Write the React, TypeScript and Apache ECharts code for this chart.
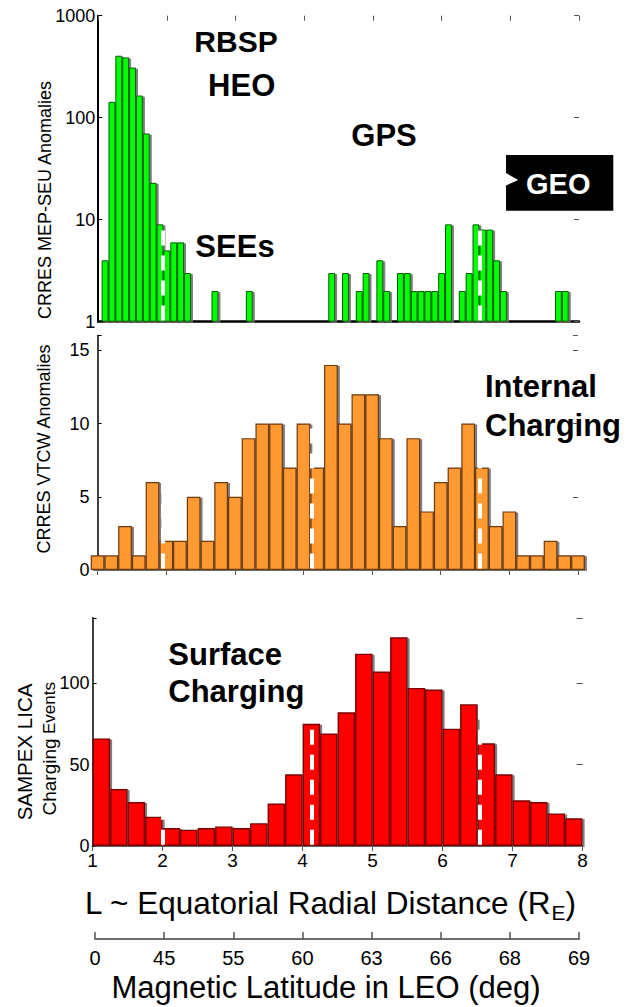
import React, { useEffect, useRef } from 'react';
import * as echarts from 'echarts';

// ---------------- data ----------------
// Top panel: CRRES MEP-SEU anomalies, 0.1-L bins, first bin centred at L = 1.1
const SEU_BIN_START = 1.1;
const SEU_BIN_WIDTH = 0.1;
const SEU_COUNTS: (number | null)[] = [
  4, 143, 405, 390, 310, 165, 70, 23, 9, 5,
  6, 6, 3, null, null, null, 2, null, null, null,
  null, 2, null, null, null, null, null, null, null, null,
  null, null, null, 3, null, 3, null, 2, 3, null,
  4, 2, null, 3, 3, 2, 2, 2, 2, 3,
  9, null, 2, 3, 9, 8, 8, 4, 2, null,
  null, null, null, null, null, null, 2, 2, null, null,
];

// Middle panel: CRRES VTCW anomalies, 0.2-L bins, first bin centred at L = 1.0
const VTCW_BIN_START = 1.0;
const VTCW_BIN_WIDTH = 0.2;
const VTCW_COUNTS: number[] = [
  1, 1, 3, 1, 6, 2, 2, 5, 2, 6, 5, 9, 10, 10, 7, 10, 7, 14,
  10, 12, 12, 9, 3, 9, 4, 6, 7, 10, 7, 3, 4, 1, 1, 2, 1, 1,
];

// Bottom panel: SAMPEX LICA charging events, 0.25-L bins, first bin centred at L = 1.125
const LICA_BIN_START = 1.125;
const LICA_BIN_WIDTH = 0.25;
const LICA_COUNTS: number[] = [
  66, 35, 27, 18, 11, 10, 11, 12, 11, 14, 26, 44, 75, 69,
  82, 118, 107, 128, 97, 96, 72, 87, 63, 44, 28, 27, 20, 17,
];

// Orbit markers (white dashed lines) in L, per panel
const SEU_MARKERS_L = [1.94, 6.55];
const VTCW_MARKERS_L = [1.95, 4.12, 6.57];
const LICA_MARKERS_L = [2.0, 4.13, 6.53];

// Tick labels
const L_TICKS = [1, 2, 3, 4, 5, 6, 7, 8];
const LAT_LABELS = ['0', '45', '55', '60', '63', '66', '68', '69'];
const SEU_Y_TICKS = [1, 10, 100, 1000];

// ---------------- styling ----------------
const FONT = '"Liberation Sans", Arial, Helvetica, sans-serif';

function textWidth(text: string, font: string): number {
  const ctx = document.createElement('canvas').getContext('2d');
  if (!ctx) return text.length * 16;
  ctx.font = font;
  return ctx.measureText(text).width;
}

function binData(start: number, width: number, counts: (number | null)[]) {
  const out: [number, number][] = [];
  counts.forEach((v, i) => {
    if (v !== null && v !== undefined) out.push([start + i * width, v]);
  });
  return out;
}

function markers(xs: number[], y0: number, y1: number) {
  return {
    silent: true,
    symbol: ['none', 'none'],
    label: { show: false },
    emphasis: { disabled: true },
    lineStyle: { color: '#ffffff', width: 4, type: [15, 10], opacity: 1 },
    data: xs.map((x) => [{ coord: [x, y0] }, { coord: [x, y1] }]),
  };
}

const shadow = {
  shadowColor: 'rgba(110,110,110,0.9)',
  shadowBlur: 0,
  shadowOffsetX: 2,
  shadowOffsetY: 1,
};

function mirrorX(gridIndex: number) {
  return {
    gridIndex,
    type: 'value',
    position: 'top',
    min: 1,
    max: 8,
    interval: 1,
    axisLine: { show: false },
    axisTick: { show: true, inside: true, length: 5, lineStyle: { color: '#555', width: 1 } },
    axisLabel: { show: false },
    splitLine: { show: false },
  };
}

function buildOption() {
  const titleFont = `31.5px ${FONT}`;
  const mainTxt = 'L ~ Equatorial Radial Distance (R';
  const subFont = `21px ${FONT}`;
  const w1 = textWidth(mainTxt, titleFont);
  const wE = textWidth('E', subFont);
  const wP = textWidth(')', titleFont);
  const titleX0 = 330.5 - (w1 + wE + wP) / 2;

  const bold = (size: number) => ({ fontFamily: FONT, fontWeight: 'bold', fontSize: size });

  const txt = (text: string, x: number, y: number, size: number, opts: any = {}) => ({
    type: 'text',
    x,
    y,
    z: 100,
    style: {
      text,
      ...bold(size),
      fill: opts.fill || '#000',
      align: opts.align || 'center',
      verticalAlign: 'middle',
      textAlign: opts.align || 'center',
      textVerticalAlign: 'middle',
    },
  });

  const rotTxt = (text: string, x: number, y: number, size: number) => ({
    type: 'text',
    x,
    y,
    rotation: Math.PI / 2,
    z: 100,
    style: {
      text,
      fontFamily: FONT,
      fontSize: size,
      fill: '#000',
      align: 'center',
      verticalAlign: 'middle',
      textAlign: 'center',
      textVerticalAlign: 'middle',
    },
  });

  return {
    animation: false,
    backgroundColor: '#ffffff',
    textStyle: { fontFamily: FONT },
    grid: [
      { left: 98.2, right: 54, top: 15.7, height: 306 },
      { left: 97.6, right: 55, top: 335.6, height: 234.4 },
      { left: 92.6, right: 50.4, top: 617.8, height: 228.2 },
      { left: 95, right: 54, top: 900, height: 39 },
    ],
    xAxis: [
      {
        gridIndex: 0, type: 'value', min: 1, max: 8, interval: 1,
        axisLine: { show: true, onZero: false, lineStyle: { color: '#000', width: 2.5 } },
        axisTick: { show: false }, axisLabel: { show: false }, splitLine: { show: false },
      },
      mirrorX(0),
      {
        gridIndex: 1, type: 'value', min: 1, max: 8, interval: 1,
        axisLine: { show: true, onZero: false, lineStyle: { color: '#000', width: 1.5 } },
        axisTick: { show: false }, axisLabel: { show: false }, splitLine: { show: false },
      },
      mirrorX(1),
      {
        gridIndex: 2, type: 'value', min: 1, max: 8, interval: 1,
        axisLine: { show: true, onZero: false, lineStyle: { color: '#000', width: 2 } },
        axisTick: { show: false },
        axisLabel: {
          show: true, fontSize: 19, color: '#000', margin: 5, fontFamily: FONT,
          formatter: (v: number) => (L_TICKS.indexOf(Math.round(v)) >= 0 ? String(Math.round(v)) : ''),
        },
        splitLine: { show: false },
      },
      mirrorX(2),
      {
        gridIndex: 3, type: 'value', min: 1, max: 8, interval: 1,
        axisLine: { show: true, onZero: false, lineStyle: { color: '#6e6e6e', width: 2 } },
        axisTick: { show: true, inside: true, length: 7, lineStyle: { color: '#555', width: 1.5 } },
        axisLabel: {
          show: true, fontSize: 20, color: '#000', margin: 9, fontFamily: FONT,
          formatter: (v: number) => LAT_LABELS[Math.round(v) - 1] ?? '',
        },
        splitLine: { show: false },
      },
    ],
    yAxis: [
      {
        gridIndex: 0, type: 'log', logBase: 10, min: 1, max: 1000,
        axisLine: { show: true, lineStyle: { color: '#000', width: 2 } },
        axisTick: { show: true, inside: true, length: 4, lineStyle: { color: '#000' } },
        axisLabel: {
          show: true, fontSize: 18, color: '#000', margin: 3, fontFamily: FONT,
          formatter: (v: number) => {
            const r = Math.round(v);
            return SEU_Y_TICKS.indexOf(r) >= 0 ? String(r) : '';
          },
        },
        splitLine: { show: false },
      },
      {
        gridIndex: 0, type: 'log', logBase: 10, min: 1, max: 1000, position: 'right',
        axisLine: { show: false },
        axisTick: { show: true, inside: true, length: 5, lineStyle: { color: '#555' } },
        axisLabel: { show: false }, splitLine: { show: false },
      },
      {
        gridIndex: 1, type: 'value', min: 0, max: 16, interval: 5,
        axisLine: { show: true, lineStyle: { color: '#000', width: 1.5 } },
        axisTick: { show: true, inside: true, length: 4, lineStyle: { color: '#000' } },
        axisLabel: {
          show: true, fontSize: 18, color: '#000', margin: 8, fontFamily: FONT,
          formatter: (v: number) => (v % 5 === 0 ? String(v) : ''),
        },
        splitLine: { show: false },
      },
      {
        gridIndex: 1, type: 'value', min: 0, max: 16, interval: 5, position: 'right',
        axisLine: { show: false },
        axisTick: { show: true, inside: true, length: 5, lineStyle: { color: '#555' } },
        axisLabel: { show: false }, splitLine: { show: false },
      },
      {
        gridIndex: 2, type: 'value', min: 0, max: 140, interval: 50,
        axisLine: { show: true, lineStyle: { color: '#000', width: 1.5 } },
        axisTick: { show: true, inside: true, length: 4, lineStyle: { color: '#000' } },
        axisLabel: {
          show: true, fontSize: 18, color: '#000', margin: 3, fontFamily: FONT,
          formatter: (v: number) => (v % 50 === 0 ? String(v) : ''),
        },
        splitLine: { show: false },
      },
      {
        gridIndex: 2, type: 'value', min: 0, max: 140, interval: 50, position: 'right',
        axisLine: { show: false },
        axisTick: { show: true, inside: true, length: 6, lineStyle: { color: '#555' } },
        axisLabel: { show: false }, splitLine: { show: false },
      },
      { gridIndex: 3, type: 'value', show: false, min: 0, max: 1 },
    ],
    series: [
      {
        type: 'bar',
        name: 'CRRES MEP-SEU',
        xAxisIndex: 0,
        yAxisIndex: 0,
        barWidth: 6.88,
        clip: false,
        data: binData(SEU_BIN_START, SEU_BIN_WIDTH, SEU_COUNTS),
        itemStyle: { color: '#00ff00', borderColor: '#005c00', borderWidth: 1, ...shadow },
        markLine: markers(SEU_MARKERS_L, 1.03, 1000),
      },
      {
        type: 'bar',
        name: 'CRRES VTCW',
        xAxisIndex: 2,
        yAxisIndex: 2,
        barWidth: 13.73,
        clip: false,
        data: binData(VTCW_BIN_START, VTCW_BIN_WIDTH, VTCW_COUNTS),
        itemStyle: { color: '#ff9933', borderColor: '#6b3a10', borderWidth: 1.2, ...shadow },
        markLine: markers(VTCW_MARKERS_L, 0.1, 16),
      },
      {
        type: 'bar',
        name: 'SAMPEX LICA',
        xAxisIndex: 4,
        yAxisIndex: 4,
        barWidth: 17.5,
        clip: false,
        data: binData(LICA_BIN_START, LICA_BIN_WIDTH, LICA_COUNTS),
        itemStyle: { color: '#ff0000', borderColor: '#7a0000', borderWidth: 1.4, ...shadow },
        markLine: markers(LICA_MARKERS_L, 0.8, 140),
      },
    ],
    graphic: [
      // top panel annotations
      txt('RBSP', 236, 41.7, 30),
      txt('HEO', 241.7, 85.8, 31),
      txt('SEEs', 235, 246.7, 31),
      txt('GPS', 384, 135.8, 31),
      {
        type: 'rect', z: 99,
        shape: { x: 506, y: 155, width: 107.3, height: 55.7 },
        style: { fill: '#000' },
      },
      {
        type: 'polygon', z: 100,
        shape: { points: [[506, 173], [518.3, 180], [506, 185.5]] },
        style: { fill: '#fff' },
      },
      txt('GEO', 558.3, 184.2, 29, { fill: '#fff' }),
      // middle panel annotation
      txt('Internal', 485, 386.7, 31, { align: 'left' }),
      txt('Charging', 485, 425.5, 31, { align: 'left' }),
      // bottom panel annotation
      txt('Surface', 168.3, 654, 31, { align: 'left' }),
      txt('Charging', 168.3, 691.7, 31, { align: 'left' }),
      // y-axis titles
      rotTxt('CRRES MEP-SEU Anomalies', 44.5, 200, 18),
      rotTxt('CRRES VTCW Anomalies', 43.5, 449, 18),
      rotTxt('SAMPEX LICA', 24, 752, 20.5),
      rotTxt('Charging', 49, 777, 19),
      rotTxt('Events', 49.5, 708, 17),
      // x-axis titles
      {
        type: 'text', x: titleX0, y: 903.3, z: 100,
        style: {
          text: mainTxt, font: titleFont, fontFamily: FONT, fontSize: 31.5, fill: '#000',
          align: 'left', verticalAlign: 'middle', textAlign: 'left', textVerticalAlign: 'middle',
        },
      },
      {
        type: 'text', x: titleX0 + w1, y: 912.3, z: 100,
        style: {
          text: 'E', font: subFont, fontFamily: FONT, fontSize: 21, fill: '#000',
          align: 'left', verticalAlign: 'middle', textAlign: 'left', textVerticalAlign: 'middle',
        },
      },
      {
        type: 'text', x: titleX0 + w1 + wE, y: 903.3, z: 100,
        style: {
          text: ')', font: titleFont, fontFamily: FONT, fontSize: 31.5, fill: '#000',
          align: 'left', verticalAlign: 'middle', textAlign: 'left', textVerticalAlign: 'middle',
        },
      },
      {
        type: 'text', x: 326, y: 987, z: 100,
        style: {
          text: 'Magnetic Latitude in LEO (deg)', fontFamily: FONT, fontSize: 31, fill: '#000',
          align: 'center', verticalAlign: 'middle', textAlign: 'center', textVerticalAlign: 'middle',
        },
      },
    ],
  };
}

export default function App() {
  const ref = useRef<HTMLDivElement>(null);
  useEffect(() => {
    const el = ref.current;
    if (!el) return;
    const chart = echarts.init(el, undefined, { renderer: 'svg' });
    chart.setOption(buildOption() as any);
    return () => {
      chart.dispose();
    };
  }, []);
  return (
    <div
      ref={ref}
      style={{ position: 'absolute', left: 0, top: 0, width: 633, height: 1007, background: '#fff' }}
    />
  );
}
